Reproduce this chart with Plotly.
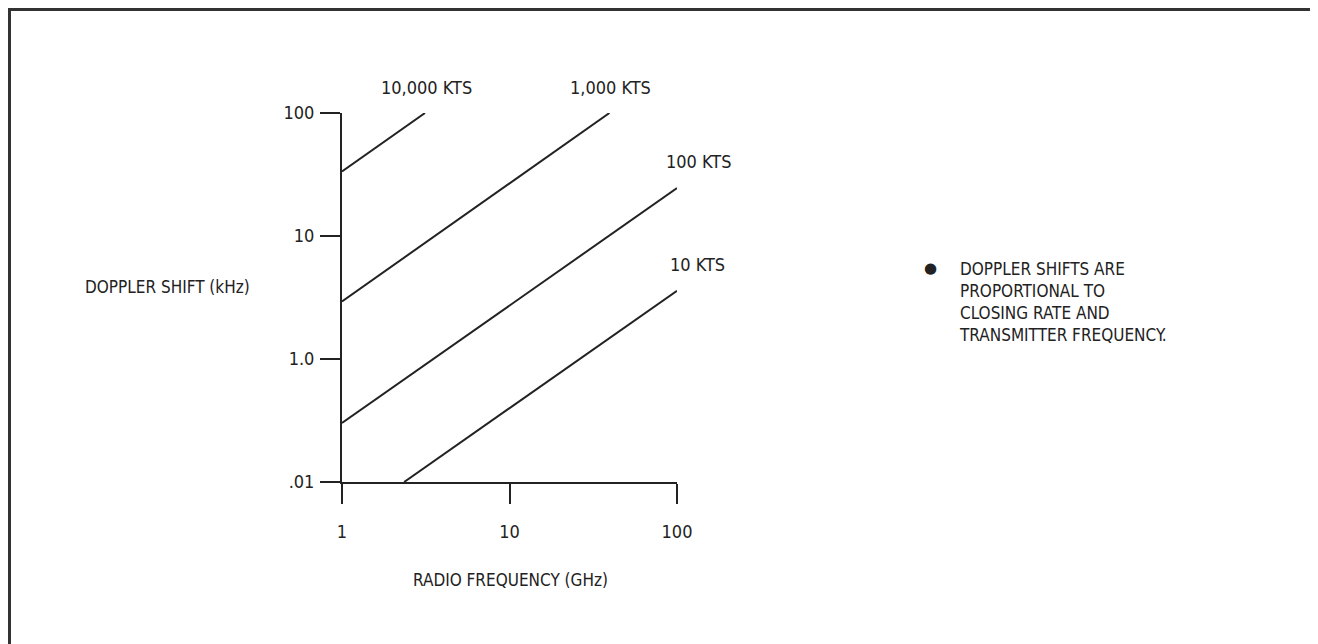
import plotly.graph_objects as go

# ---- data ----
speed_labels = ["10,000 KTS", "1,000 KTS", "100 KTS", "10 KTS"]
freq_start_ghz = [1.0, 1.0, 1.0, 2.35]
freq_end_ghz = [3.13, 39.5, 100.0, 100.0]
shift_start_khz = [33.5, 2.94, 0.302, 0.1]
shift_end_khz = [100.0, 100.0, 24.5, 3.59]

x_tick_vals = [1, 10, 100]
x_tick_text = ["1", "10", "100"]
y_tick_vals = [100, 10, 1, 0.1]
y_tick_text = ["100", "10", "1.0", ".01"]

note_lines = ["DOPPLER SHIFTS ARE", "PROPORTIONAL TO", "CLOSING RATE AND", "TRANSMITTER FREQUENCY."]

# ---- layout geometry (page pixels, page body has an 8px margin) ----
OFF = 8
PAGE_W, PAGE_H = 1318, 644
W, H = PAGE_W - OFF, PAGE_H - OFF
PLOT_L, PLOT_R, PLOT_T, PLOT_B = 342, 677, 113, 482   # page coords of plot area
L, T = PLOT_L - OFF, PLOT_T - OFF
PW, PH = PLOT_R - PLOT_L, PLOT_B - PLOT_T
R, B = W - L - PW, H - T - PH

FONT = "Liberation Sans Narrow, Arial Narrow, DejaVu Sans Condensed, sans-serif"
INK = "#222222"


def px(x):
    return (x - PLOT_L) / PW


def py(y):
    return (PLOT_B - y) / PH


fig = go.Figure()
for i in range(len(speed_labels)):
    fig.add_trace(go.Scatter(
        x=[freq_start_ghz[i], freq_end_ghz[i]],
        y=[shift_start_khz[i], shift_end_khz[i]],
        mode="lines",
        line=dict(color=INK, width=2),
        name=speed_labels[i],
        showlegend=False,
        hoverinfo="skip",
        cliponaxis=False,
    ))

label_pos = [(426, 87), (610, 87), (698, 162), (697, 264)]
annotations = []
for (lx, ly), txt in zip(label_pos, speed_labels):
    annotations.append(dict(x=px(lx), y=py(ly), xref="paper", yref="paper", text=txt,
                            showarrow=False, xanchor="center", yanchor="middle",
                            font=dict(family=FONT, size=18, color=INK)))

annotations.append(dict(x=px(167), y=py(287), xref="paper", yref="paper",
                        text="DOPPLER SHIFT (kHz)", showarrow=False,
                        xanchor="center", yanchor="middle",
                        font=dict(family=FONT, size=17, color=INK)))
annotations.append(dict(x=px(510), y=py(580), xref="paper", yref="paper",
                        text="RADIO FREQUENCY (GHz)", showarrow=False,
                        xanchor="center", yanchor="middle",
                        font=dict(family=FONT, size=17, color=INK)))
annotations.append(dict(x=px(930), y=py(268), xref="paper", yref="paper",
                        text="●", showarrow=False, xanchor="center", yanchor="middle",
                        font=dict(family="DejaVu Sans", size=15, color=INK)))
annotations.append(dict(x=px(957), y=py(257), xref="paper", yref="paper",
                        text="<br>".join(note_lines), showarrow=False,
                        xanchor="left", yanchor="top", align="left",
                        font=dict(family=FONT, size=17, color=INK)))

# frame: top and left edges (as close to the page edge as the figure allows)
shapes = [
    dict(type="line", xref="paper", yref="paper", x0=px(OFF + 1), x1=px(PAGE_W + 4),
         y0=py(OFF + 1.5), y1=py(OFF + 1.5), line=dict(color="#333333", width=3)),
    dict(type="line", xref="paper", yref="paper", x0=px(OFF + 1.5), x1=px(OFF + 1.5),
         y0=py(OFF), y1=py(PAGE_H + 4), line=dict(color="#333333", width=3)),
]

fig.update_layout(
    width=W, height=H,
    margin=dict(l=L, r=R, t=T, b=B, pad=0),
    paper_bgcolor="white", plot_bgcolor="white",
    showlegend=False,
    annotations=annotations,
    shapes=shapes,
    font=dict(family=FONT, size=17, color=INK),
    xaxis=dict(type="log", range=[0, 2], showgrid=False, zeroline=False,
               showline=True, linecolor=INK, linewidth=2,
               ticks="outside", ticklen=20, tickwidth=2, tickcolor=INK,
               tickvals=x_tick_vals, ticktext=x_tick_text, ticklabelstandoff=12,
               tickfont=dict(family=FONT, size=18, color=INK)),
    yaxis=dict(type="log", range=[-1, 2], showgrid=False, zeroline=False,
               showline=True, linecolor=INK, linewidth=2,
               ticks="outside", ticklen=20, tickwidth=2, tickcolor=INK,
               tickvals=y_tick_vals, ticktext=y_tick_text, ticklabelstandoff=2,
               tickfont=dict(family=FONT, size=18, color=INK)),
)

fig.write_html("out.html")
